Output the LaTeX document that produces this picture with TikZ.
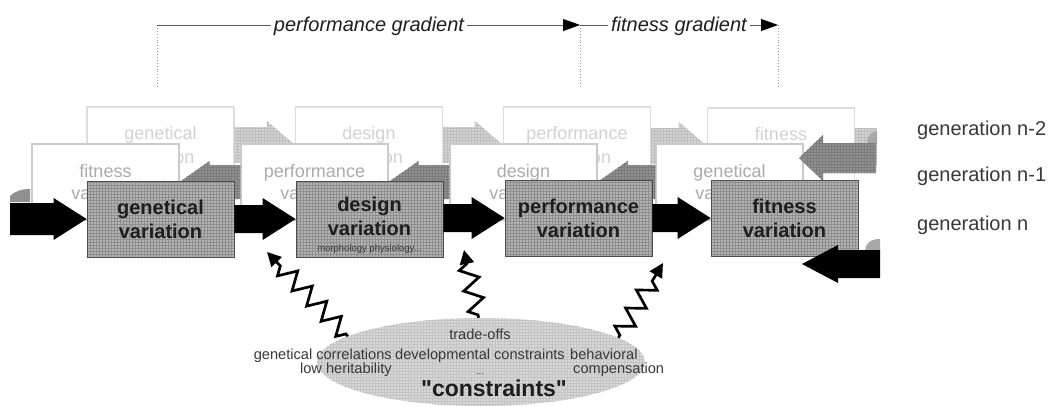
\documentclass[tikz,border=0pt]{standalone}
\usepackage{fontspec}
\setmainfont{Liberation Sans}
\usetikzlibrary{patterns,shapes.geometric,decorations.pathmorphing,arrows.meta,calc}
\definecolor{frontfill}{HTML}{B4B4B4}
\definecolor{frontgrid}{HTML}{8E8E8E}
\definecolor{frontline}{HTML}{4D4D4D}
\definecolor{midarrow}{HTML}{909090}
\definecolor{midgrid}{HTML}{7C7C7C}
\definecolor{curlgray}{HTML}{A8A8A8}
\definecolor{backarrow}{HTML}{D4D4D4}
\definecolor{backgrid}{HTML}{BEBEBE}
\definecolor{nAline}{HTML}{CACACA}
\definecolor{nAtext}{HTML}{ABABAB}
\definecolor{nBline}{HTML}{DDDDDD}
\definecolor{nBtext}{HTML}{D2D2D2}
\definecolor{ellfill}{HTML}{D8D8D8}
\definecolor{ellgrid}{HTML}{C4C4C4}
\definecolor{txt}{HTML}{1E1E1E}
\definecolor{softtxt}{HTML}{383838}
\newcommand\barR[6]{\path[#1] let \p1=(#2), \p2=(#3) in (\x1,{\y2+#4}) -- ({\x2-#6},{\y2+#4}) -- ({\x2-#6},{\y2+#5}) -- (\x2,\y2) -- ({\x2-#6},{\y2-#5}) -- ({\x2-#6},{\y2-#4}) -- (\x1,{\y2-#4}) -- cycle;}
\newcommand\barL[6]{\path[#1] let \p1=(#2), \p2=(#3) in (\x1,{\y2+#4}) -- ({\x2+#6},{\y2+#4}) -- ({\x2+#6},{\y2+#5}) -- (\x2,\y2) -- ({\x2+#6},{\y2-#5}) -- ({\x2+#6},{\y2-#4}) -- (\x1,{\y2-#4}) -- cycle;}
\begin{document}
\begin{tikzpicture}[x=1pt,y=-1pt,
  frontbox/.style={draw=frontline, line width=0.8pt, preaction={fill=frontfill}, pattern=grid, pattern color=frontgrid, minimum width=147pt, minimum height=76pt, inner sep=0pt, align=center, font=\fontsize{20}{24}\selectfont\bfseries, text=txt},
  frontlabel/.style={inner sep=0pt, align=center, font=\fontsize{20}{24}\selectfont\bfseries, text=txt},
  nAbox/.style={draw=nAline, line width=1.2pt, fill=white, minimum width=147pt, minimum height=76pt, inner sep=0pt, align=center, font=\fontsize{18}{22}\selectfont, text=nAtext},
  nBbox/.style={draw=nBline, line width=1.2pt, fill=white, minimum width=147pt, minimum height=76pt, inner sep=0pt, align=center, font=\fontsize{18}{24}\selectfont, text=nBtext},
  nAarr/.style={preaction={fill=midarrow}, pattern=grid, pattern color=midgrid},
  nBarr/.style={preaction={fill=backarrow}, pattern=grid, pattern color=backgrid},
  blk/.style={fill=black},
  gentext/.style={inner sep=0pt, font=\fontsize{20}{24}\selectfont, text=softtxt},
  gradtext/.style={fill=white, inner sep=3pt, font=\fontsize{20}{24}\selectfont\itshape, text=txt},
  gradline/.style={draw=black!65, line width=0.8pt, -{Triangle[length=17pt,width=12pt,color=black]}},
  dotline/.style={draw=black!40, line width=0.9pt, dotted},
  ctext/.style={inner sep=0pt, font=\fontsize{14.6}{13}\selectfont, text=softtxt},
  smalltext/.style={inner sep=0pt, font=\fontsize{9.5}{11}\selectfont, text=softtxt},
  consell/.style={ellipse, preaction={fill=ellfill}, pattern=grid, pattern color=ellgrid, minimum width=328pt, minimum height=88pt, inner sep=0pt},
  zz/.style={draw=black, line width=2.7pt, decorate, decoration={zigzag, segment length=21pt, amplitude=9pt, pre length=3pt, post length=12pt}, -{Triangle[length=14pt,width=14pt]}}
]
\useasboundingbox (0,0) rectangle (1061,407);

% gradients
\coordinate (pg0) at (157,25);
\coordinate (pg1) at (580,25);
\coordinate (pg2) at (778,25);
\coordinate (pg0b) at (157,86);
\coordinate (pg1b) at (580,86);
\coordinate (pg2b) at (778,86);
\draw[dotline] (pg0) -- (pg0b);
\draw[dotline] (pg1) -- (pg1b);
\draw[dotline] (pg2) -- (pg2b);
\draw[gradline] (pg0) -- (pg1);
\draw[gradline] (pg1) -- (pg2);
\node[gradtext, anchor=base] (pgt) at (369,31) {performance gradient};
\node[gradtext, anchor=base] (fgt) at (679,31) {fitness gradient};

% generation n-2
\node[nBbox] (mBa) at (160.5,145) {genetical\\variation};
\node[nBbox] (mBb) at (369,145) {design\\variation};
\node[nBbox] (mBc) at (577,145) {performance\\variation};
\node[nBbox] (mBd) at (781,146) {fitness\\variation};
\barR{nBarr}{mBa.east}{mBb.west}{18pt}{24pt}{28pt}
\barR{nBarr}{mBb.east}{mBc.west}{18pt}{24pt}{28pt}
\barR{nBarr}{mBc.east}{mBd.west}{18pt}{24pt}{28pt}
\coordinate (mBout) at (877,146);
\path[nBarr] let \p1=(mBd.east), \p2=(mBout) in (\x1,{\y1+18pt}) rectangle (\x2,{\y1-18pt});

% generation n-1
\node[nAbox] (mAa) at (105.5,182) {fitness\\variation};
\node[nAbox] (mAb) at (314.5,182) {performance\\variation};
\node[nAbox] (mAc) at (523.5,182) {design\\variation};
\node[nAbox] (mAd) at (729.5,182) {genetical\\variation};
\barL{nAarr}{mAb.west}{mAa.east}{17pt}{21pt}{30pt}
\barL{nAarr}{mAc.west}{mAb.east}{17pt}{21pt}{30pt}
\barL{nAarr}{mAd.west}{mAc.east}{17pt}{21pt}{30pt}
\coordinate (mAtail) at (876,158);
\coordinate (mAtip) at (799,158);
\fill[curlgray] (867,144) .. controls (867,137) and (871,132) .. (877,131) -- (877,144) -- cycle;
\barL{nAarr}{mAtail}{mAtip}{15pt}{23pt}{24pt}

% generation n
\node[frontbox] (fa) at (160.5,219) {genetical\\variation};
\node[frontbox] (fb) at (369.5,219) {};
\node[frontlabel] (fbl) at (369.5,216) {design\\variation};
\node[smalltext, anchor=base] (fbs) at (369.5,251) {morphology physiology...};
\node[frontbox] (fc) at (578.5,218) {performance\\variation};
\node[frontbox] (fd) at (784.5,218) {fitness\\variation};

\coordinate (fin) at (10,217);
\fill[midarrow] (10,202) -- (10,196) .. controls (15,191) and (22,189) .. (30,189) -- (30,202) -- cycle;
\barR{blk}{fin}{fa.west}{16pt}{21pt}{33pt}
\barR{blk}{fa.east}{fb.west}{14pt}{21pt}{33pt}
\barR{blk}{fb.east}{fc.west}{14pt}{21pt}{33pt}
\barR{blk}{fc.east}{fd.west}{14pt}{21pt}{33pt}
\coordinate (fout) at (880,264);
\coordinate (fret) at (802,264);
\fill[curlgray] (865,251) .. controls (865,244) and (870,239) .. (880,239) -- (880,251) -- cycle;
\barL{blk}{fout}{fret}{14pt}{19pt}{36pt}

% constraints
\node[consell] (cons) at (481,362) {};
\node[ctext, anchor=base east] (gc) at (392,359) {genetical correlations};
\node[ctext, anchor=base east] (lh) at (392,373) {low heritability};
\node[ctext, anchor=base] (tro) at (480,339) {trade-offs};
\node[ctext, anchor=base] (dvc) at (480,359) {developmental constraints};
\node[smalltext, anchor=base] (dts) at (480,374) {...};
\node[ctext, anchor=base west] (bhv) at (570,359) {behavioral};
\node[ctext, anchor=base west] (cmp) at (573,373) {compensation};
\node[inner sep=0pt, anchor=base, font=\fontsize{23}{26}\selectfont\bfseries, text=txt] (cq) at (494,396) {\textquotedbl constraints\textquotedbl};

\coordinate (za) at (267,252);
\coordinate (zb) at (464,250);
\coordinate (zc) at (663,263);
\draw[zz] (cons.169) -- (za);
\draw[zz] (cons.93) -- (zb);
\draw[zz] (cons.10) -- (zc);

% generation labels
\node[gentext, anchor=base west] (gB) at (917,135) {generation n-2};
\node[gentext, anchor=base west] (gA) at (917,181) {generation n-1};
\node[gentext, anchor=base west] (g0) at (917,230) {generation n};
\end{tikzpicture}
\end{document}
